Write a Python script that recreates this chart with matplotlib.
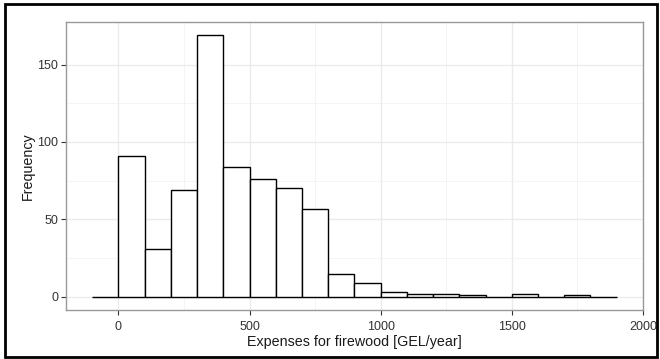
import numpy as np
import matplotlib.pyplot as plt
from matplotlib.patches import Rectangle

plt.rcParams['font.family'] = ['Liberation Sans', 'DejaVu Sans']

# histogram of firewood expenses, bins of 100 GEL
bin_left = np.arange(-100, 1900, 100)
counts = [0, 91, 31, 69, 169, 84, 76, 70, 57, 15, 9, 3, 2, 2, 1, 0, 2, 0, 1, 0]
xticks = [0, 500, 1000, 1500, 2000]
yticks = [0, 50, 100, 150]

fig = plt.figure(figsize=(6.6, 3.59), dpi=100)
ax = fig.add_axes([0.1, 0.1365, 0.874, 0.8022])

ax.bar(bin_left, counts, width=100, align='edge', facecolor='white',
       edgecolor='black', linewidth=1.0, zorder=3)

ax.set_xlim(-200, 2000)
ax.set_ylim(-8.45, 177.45)
ax.set_xticks(xticks)
ax.set_yticks(yticks)
ax.set_xticks([250, 750, 1250, 1750], minor=True)
ax.set_yticks([25, 75, 125], minor=True)
ax.grid(which='major', color='#ebebeb', linewidth=1.0, zorder=0)
ax.grid(which='minor', color='#f2f2f2', linewidth=0.6, zorder=0)
ax.tick_params(which='minor', length=0)
ax.tick_params(which='major', length=3.5, color='#333333', labelsize=9,
               labelcolor='#333333')
ax.tick_params(axis='x', pad=4.5)
ax.tick_params(axis='y', pad=2)
for s in ax.spines.values():
    s.set_color('#999999')
    s.set_linewidth(1.0)

ax.set_xlabel('Expenses for firewood [GEL/year]', fontsize=10.3, labelpad=1.5,
              color='#1a1a1a')
ax.set_ylabel('Frequency', fontsize=10.3, labelpad=1.5, color='#1a1a1a')

fig.patches.append(Rectangle((0.008, 0.006), 0.988, 0.982, transform=fig.transFigure,
                             fill=False, edgecolor='black', linewidth=2))

fig.savefig('out.png', dpi=100)
